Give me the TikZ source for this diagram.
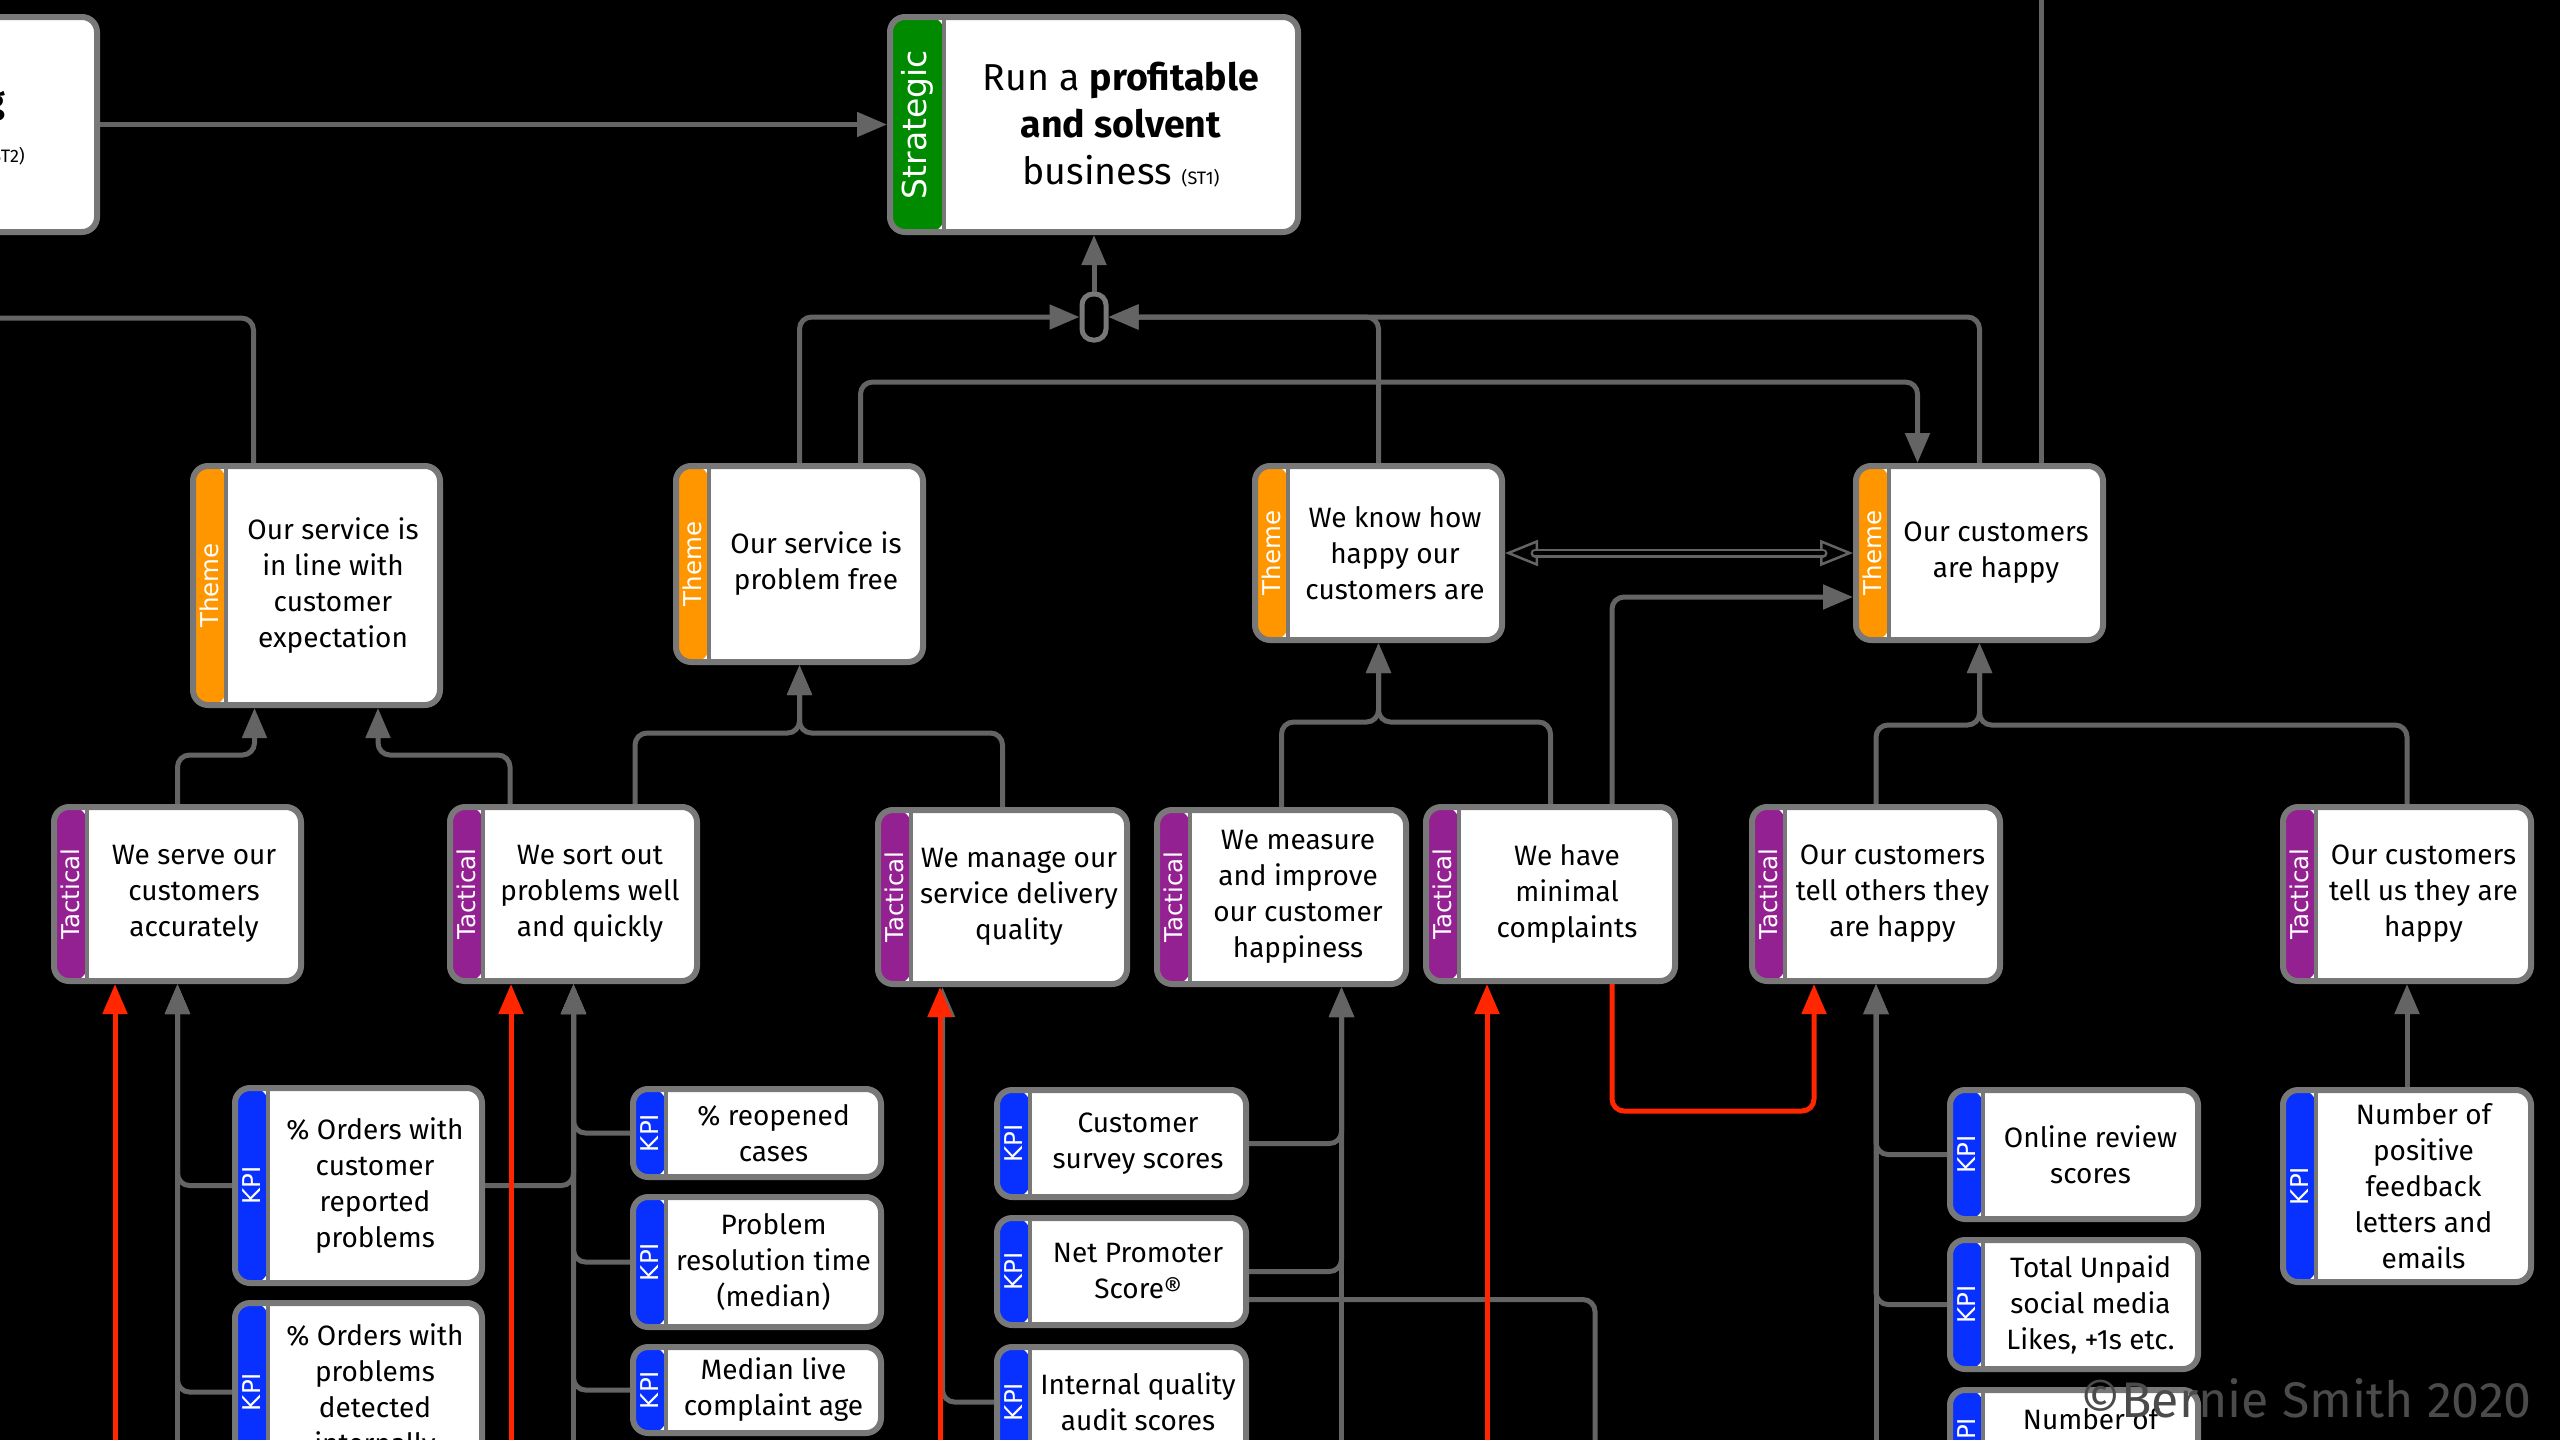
\documentclass[tikz,border=0pt]{standalone}
\usepackage{fontspec}
\setmainfont{Fira Sans}
\newfontfamily\tagfont{DejaVu Sans}
\usetikzlibrary{arrows.meta}

\definecolor{linegray}{RGB}{100,100,100}
\definecolor{edgegray}{RGB}{120,120,120}
\definecolor{bandgreen}{RGB}{0,138,0}
\definecolor{bandorange}{RGB}{255,150,0}
\definecolor{bandpurple}{RGB}{148,33,145}
\definecolor{bandblue}{RGB}{8,48,255}
\definecolor{alarmred}{RGB}{255,38,0}
\definecolor{creditgray}{RGB}{75,75,75}

% kind of card: name, band colour, band width, band label, label font, body font
\newcommand\cardkind[6]{%
  \expandafter\def\csname ckcol#1\endcsname{#2}%
  \expandafter\def\csname ckbw#1\endcsname{#3}%
  \expandafter\def\csname cklab#1\endcsname{#4}%
  \expandafter\def\csname ckfont#1\endcsname{#5}%
  \expandafter\def\csname cktext#1\endcsname{#6}}

\cardkind{strat}{bandgreen}{54}{Strategic}{\tagfont\fontsize{33}{33}\selectfont}{\fontsize{37.5}{47}\selectfont}
\cardkind{theme}{bandorange}{33}{Theme}{\tagfont\fontsize{24.5}{24.5}\selectfont}{\fontsize{28}{36}\selectfont}
\cardkind{tact}{bandpurple}{33}{Tactical}{\tagfont\fontsize{24.5}{24.5}\selectfont}{\fontsize{28}{36}\selectfont}
\cardkind{kpi}{bandblue}{33}{KPI}{\tagfont\fontsize{24.5}{24.5}\selectfont}{\fontsize{28}{36}\selectfont}

% card: kind, name, left, top, right, bottom, text
\newcommand\card[7]{%
  \pgfmathsetmacro\kW{#5-#3}%
  \pgfmathsetmacro\kH{#6-#4}%
  \pgfmathsetmacro\kX{(#3+#5)/2}%
  \pgfmathsetmacro\kY{(#4+#6)/2}%
  \edef\kB{\csname ckbw#1\endcsname}%
  \edef\kC{\csname ckcol#1\endcsname}%
  \pgfmathsetmacro\kS{#3+\kB}%
  \pgfmathsetmacro\kLx{#3+\kB/2}%
  \pgfmathsetmacro\kTx{(#3+\kB+#5)/2}%
  \node[cardfill, minimum width=\kW pt, minimum height=\kH pt,
    path picture={\fill[fill=\kC] (path picture bounding box.north west)
      rectangle ([xshift=\kB pt]path picture bounding box.south west);}]
    (#2) at (\kX,\kY) {};
  \draw[sepline] (\kS,#4) -- (\kS,#6);
  \draw[cardedge] (#3,#4) rectangle (#5,#6);
  \node[bandlabel, font=\csname ckfont#1\endcsname] (#2-tag) at (\kLx,\kY) {\csname cklab#1\endcsname};
  \node[cardtext, font=\csname cktext#1\endcsname] (#2-txt) at (\kTx,\kY) {#7};
}

\begin{document}
\begin{tikzpicture}[x=1pt, y=-1pt,
  cardfill/.style={rectangle, fill=white, rounded corners=15pt, inner sep=0pt, outer sep=3pt},
  cardedge/.style={draw=edgegray, line width=6pt, rounded corners=15pt},
  sepline/.style={draw=edgegray, line width=4pt},
  bandlabel/.style={rotate=90, text=white, inner sep=0pt},
  cardtext/.style={align=center, text=black, inner sep=0pt},
  hubbox/.style={draw=edgegray, line width=5pt, fill=black, rounded corners=11pt,
    minimum width=24pt, minimum height=46pt, inner sep=0pt},
  conn/.style={draw=linegray, line width=5pt, rounded corners=12pt},
  arr/.style={conn, -{Triangle[length=30pt, width=24pt]}},
  redarr/.style={arr, draw=alarmred},
  hollowtip/.tip={Triangle[open, length=33pt, width=26pt, line width=2.5pt, color=linegray]}
]
\useasboundingbox (0,0) rectangle (2560,1440);
\fill[black] (0,0) rectangle (2560,1440);
\clip (0,0) rectangle (2560,1440);

% ---------- strategic level ----------
\node[cardfill, minimum width=427pt, minimum height=215pt] (st2) at (-116.5,124.5) {};
\draw[cardedge] (-330,17) rectangle (97,232);
\node[anchor=base east, inner sep=0pt, font=\fontsize{36}{47}\selectfont\bfseries] (st2g) at (6,113) {g};
\node[anchor=base east, inner sep=0pt, font=\fontsize{18}{18}\selectfont] (st2ref) at (25,162) {(ST2)};

\card{strat}{strat}{890}{17}{1298}{232}{Run a \textbf{profitable}\\\textbf{and solvent}\\business {\fontsize{18}{18}\selectfont(ST1)}}

\node[hubbox] (hub) at (1094,317) {};

% ---------- themes ----------
\card{theme}{T1}{193}{466}{440}{705}{Our service is\\in line with\\customer\\expectation}
\card{theme}{T2}{676}{466}{923}{662}{Our service is\\problem free}
\card{theme}{T3}{1255}{466}{1502}{640}{We know how\\happy our\\customers are}
\card{theme}{T4}{1856}{466}{2103}{640}{Our customers\\are happy}

% ---------- tactical ----------
\card{tact}{tac1}{54}{807}{301}{981}{We serve our\\customers\\accurately}
\card{tact}{tac2}{450}{807}{697}{981}{We sort out\\problems well\\and quickly}
\card{tact}{tac3}{878}{810}{1127}{984}{We manage our\\service delivery\\quality}
\card{tact}{tac4}{1157}{810}{1406}{984}{We measure\\and improve\\our customer\\happiness}
\card{tact}{tac5}{1426}{807}{1675}{981}{We have\\minimal\\complaints}
\card{tact}{tac6}{1752}{807}{2000}{981}{Our customers\\tell others they\\are happy}
\card{tact}{tac7}{2283}{807}{2531}{981}{Our customers\\tell us they are\\happy}

% ---------- KPIs ----------
\card{kpi}{kA1}{235}{1088}{482}{1283}{\% Orders with\\customer\\reported\\problems}
\card{kpi}{kA2}{235}{1303}{482}{1481}{\% Orders with\\problems\\detected\\internally}
\card{kpi}{kB1}{633}{1089}{881}{1177}{\% reopened\\cases}
\card{kpi}{kB2}{633}{1197}{881}{1327}{Problem\\resolution time\\(median)}
\card{kpi}{kB3}{633}{1347}{881}{1433}{Median live\\complaint age}
\card{kpi}{kC1}{997}{1090}{1246}{1197}{Customer\\survey scores}
\card{kpi}{kC2}{997}{1218}{1246}{1325}{Net Promoter\\Score®}
\card{kpi}{kC3}{997}{1347}{1246}{1457}{Internal quality\\audit scores}
\card{kpi}{kD1}{1950}{1090}{2198}{1219}{Online review\\scores}
\card{kpi}{kD2}{1950}{1240}{2198}{1369}{Total Unpaid\\social media\\Likes, +1s etc.}
\card{kpi}{kD3}{1950}{1390}{2198}{1484}{Number of\\\mbox{}}
\card{kpi}{kE}{2283}{1090}{2531}{1282}{Number of\\positive\\feedback\\letters and\\emails}

% ---------- ports and loose ends ----------
\coordinate (offL) at (-20,318);
\coordinate (offT) at (2041.5,-20);
\coordinate (redA) at (115,1460);
\coordinate (grayA) at (177.5,1460);
\coordinate (redB) at (511,1460);
\coordinate (grayB) at (573.5,1460);
\coordinate (redC) at (940,1460);
\coordinate (grayC) at (1341.5,1460);
\coordinate (npsOut) at (1595,1460);
\coordinate (redD) at (1487,1460);
\coordinate (grayD) at (1876,1460);

\coordinate (t1a) at ([xshift=-62pt]T1.south);
\coordinate (t1b) at ([xshift=61.5pt]T1.south);
\coordinate (t2r) at ([xshift=61pt]T2.north);
\coordinate (t4l) at ([xshift=-62pt]T4.north);
\coordinate (c2a) at ([xshift=-63.5pt]tac2.north);
\coordinate (c2b) at ([xshift=61.5pt]tac2.north);
\coordinate (c5) at ([xshift=61.5pt]tac5.north);
\coordinate (p3) at ([xshift=-60pt]tac3.south);
\coordinate (p4) at ([xshift=60pt]tac4.south);
\coordinate (r5) at ([xshift=61.5pt]tac5.south);
\coordinate (r6) at ([xshift=-62pt]tac6.south);

% ---------- grey links ----------
\draw[arr] (st2.east) -- (strat.west);
\draw[arr] (hub.north) -- (strat.south);
\draw[arr] (T2.north) |- (hub.west);
\draw[arr] (T3.north) |- (hub.east);
\draw[arr] (T4.north) |- (hub.east);
\draw[conn] ([xshift=-63pt]T1.north) |- (offL);
\draw[conn] ([xshift=62pt]T4.north) -- (offT);
\draw[arr] (t2r) -- (t2r |- 0,382) -- (t4l |- 0,382) -- (t4l);
\draw[arr] (c5) |- ([yshift=-44pt]T4.west);

% two-way link between the two happiness themes
\draw[black, line width=1pt, {hollowtip}-{hollowtip}] (T3.east) -- (T4.west);
\draw[linegray, line width=2.5pt, double=black, double distance=4pt, line cap=round]
  ([xshift=30pt]T3.east) -- ([xshift=-30pt]T4.west);

\draw[arr] (tac1.north) -- (tac1.north |- 0,755) -- (t1a |- 0,755) -- (t1a);
\draw[arr] (c2a) -- (c2a |- 0,755) -- (t1b |- 0,755) -- (t1b);
\draw[arr] (c2b) -- (c2b |- 0,733) -- (T2.south |- 0,733) -- (T2.south);
\draw[arr] (tac3.north) -- (tac3.north |- 0,733) -- (T2.south |- 0,733) -- (T2.south);
\draw[arr] (tac4.north) -- (tac4.north |- 0,722) -- (T3.south |- 0,722) -- (T3.south);
\draw[arr] (tac5.north) -- (tac5.north |- 0,722) -- (T3.south |- 0,722) -- (T3.south);
\draw[arr] (tac6.north) -- (tac6.north |- 0,725) -- (T4.south |- 0,725) -- (T4.south);
\draw[arr] (tac7.north) -- (tac7.north |- 0,725) -- (T4.south |- 0,725) -- (T4.south);

\draw[arr] (kA1.west) -| (tac1.south);
\draw[arr] (kA2.west) -| (tac1.south);
\draw[arr] (grayA) -- (tac1.south);
\draw[arr] (kA1.east) -| (tac2.south);
\draw[arr] (kB1.west) -| (tac2.south);
\draw[arr] (kB2.west) -| (tac2.south);
\draw[arr] (kB3.west) -| (tac2.south);
\draw[arr] (grayB) -- (tac2.south);
\draw[arr] (kC3.west) -| (p3);
\draw[arr] (kC1.east) -| (p4);
\draw[arr] (kC2.east) -| (p4);
\draw[arr] (grayC) -- (p4);
\draw[conn] ([yshift=-28pt]kC2.east) -| (npsOut);
\draw[arr] (kD1.west) -| (tac6.south);
\draw[arr] (kD2.west) -| (tac6.south);
\draw[arr] (grayD) -- (tac6.south);
\draw[arr] (kE.north) -- (tac7.south);

% ---------- red links ----------
\draw[redarr] (redA) -- ([xshift=-62.5pt]tac1.south);
\draw[redarr] (redB) -- ([xshift=-62.5pt]tac2.south);
\draw[redarr] (redC) -- ([xshift=-62.5pt]tac3.south);
\draw[redarr] (redD) -- ([xshift=-63.5pt]tac5.south);
\draw[redarr] (r5) -- (r5 |- 0,1111) -- (r6 |- 0,1111) -- (r6);

% ---------- credit ----------
\node[anchor=base east, inner sep=0pt, text=creditgray, font=\fontsize{50}{50}\selectfont] (credit) at (2532,1417) {©Bernie Smith 2020};
\end{tikzpicture}
\end{document}
